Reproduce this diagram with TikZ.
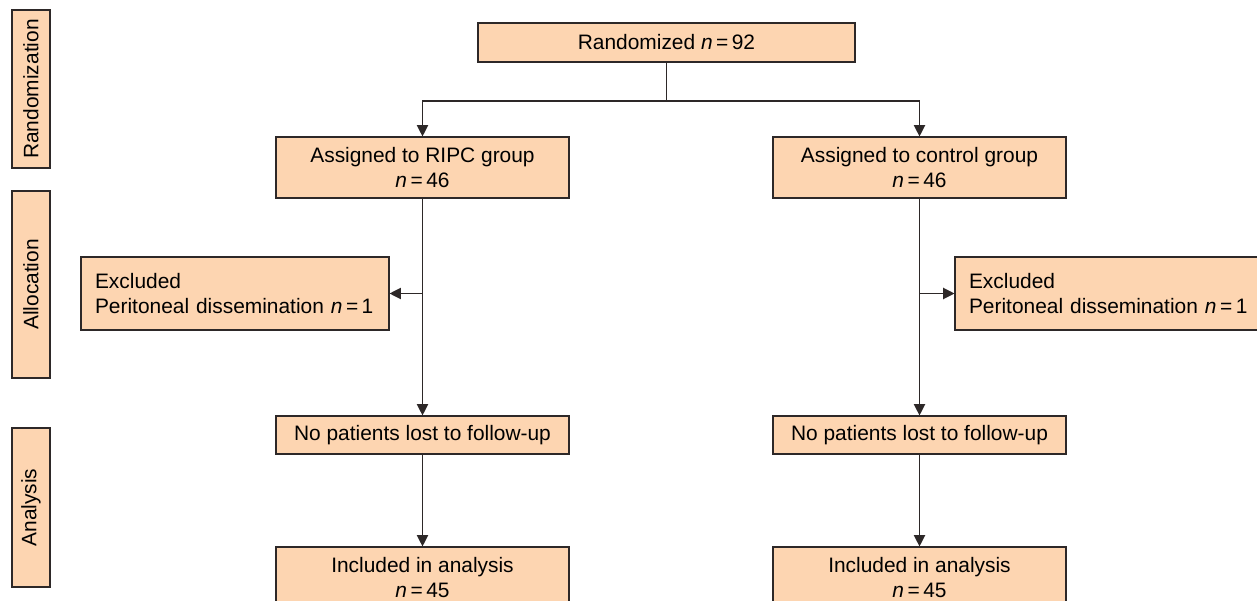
\documentclass[tikz,border=0pt]{standalone}
\usepackage{fontspec}
\setmainfont{Liberation Sans}
\usepackage{tikz}
\usetikzlibrary{arrows.meta,positioning}
\usepackage{xcolor}
\definecolor{ptFill}{RGB}{253,213,177}
\definecolor{ptLine}{RGB}{45,40,40}

\begin{document}
\begin{tikzpicture}[x=0.02cm,y=-0.02cm,>={Triangle[length=6.5pt,width=6.5pt]},
    font=\fontsize{11.9}{14.2}\selectfont,
    flowbox/.style={draw=ptLine,line width=0.65pt,fill=ptFill,minimum width=5.86cm,minimum height=1.22cm,align=center,inner sep=2pt},
    exclbox/.style={draw=ptLine,line width=0.65pt,fill=ptFill,minimum width=6.16cm,minimum height=1.46cm,text width=5.6cm,align=left,inner xsep=0.28cm},
    stagebox/.style={draw=ptLine,line width=0.65pt,fill=ptFill,minimum height=0.76cm,rotate=90,inner sep=2pt},
    link/.style={draw=ptLine,line width=0.65pt}
]
\useasboundingbox (0,0) rectangle (1257,601);
\clip (0,0) rectangle (1257,601);

% Stage labels on the left
\node[stagebox,minimum width=3.16cm] at (31,89) (stage_rand) {Randomization};
\node[stagebox,minimum width=3.74cm] at (31,284.5) (stage_alloc) {Allocation};
\node[stagebox,minimum width=3.18cm] at (31,507.5) (stage_anal) {Analysis};

% Randomization
\node[flowbox,minimum width=7.54cm,minimum height=0.78cm] at (666.5,42.5) (rand) {Randomized \textit{n}\,=\,92};

% Two arms
\node[flowbox] at (422.5,167.5) (ripc) {Assigned to RIPC group\\\textit{n}\,=\,46};
\node[flowbox] at (919.5,167.5) (ctrl) {Assigned to control group\\\textit{n}\,=\,46};

% Exclusions
\node[exclbox] at (235,293.5) (ripc_excl) {Excluded\\Peritoneal dissemination \textit{n}\,=\,1};
\node[exclbox] at (1109,293.5) (ctrl_excl) {Excluded\\Peritoneal dissemination \textit{n}\,=\,1};

% Follow-up
\node[flowbox,minimum height=0.76cm] at (422.5,435) (ripc_fu) {No patients lost to follow-up};
\node[flowbox,minimum height=0.76cm] at (919.5,435) (ctrl_fu) {No patients lost to follow-up};

% Analysis
\node[flowbox] at (422.5,577.5) (ripc_an) {Included in analysis\\\textit{n}\,=\,45};
\node[flowbox] at (919.5,577.5) (ctrl_an) {Included in analysis\\\textit{n}\,=\,45};

% Connectors
\coordinate (split) at (666.5,101);
\draw[link] (rand.south) -- (split);
\draw[link,->] (split) -| (ripc.north);
\draw[link,->] (split) -| (ctrl.north);
\draw[link,->] (ripc.south) -- (ripc_fu.north);
\draw[link,->] (ctrl.south) -- (ctrl_fu.north);
\draw[link,->] (ripc.south |- ripc_excl.east) -- (ripc_excl.east);
\draw[link,->] (ctrl.south |- ctrl_excl.west) -- (ctrl_excl.west);
\draw[link,->] (ripc_fu.south) -- (ripc_an.north);
\draw[link,->] (ctrl_fu.south) -- (ctrl_an.north);

\end{tikzpicture}
\end{document}
